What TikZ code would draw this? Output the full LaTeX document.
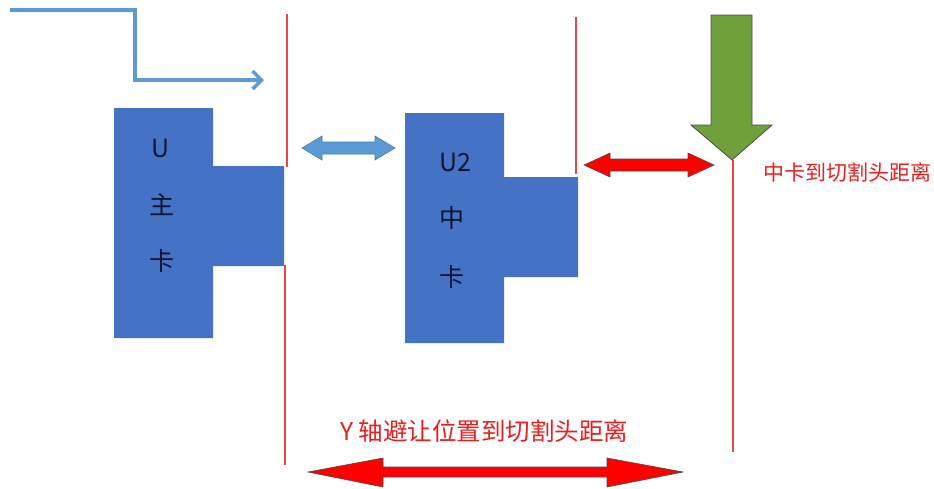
\documentclass[tikz,border=0pt]{standalone}
\usepackage{fontspec}
\setmainfont{Noto Sans CJK SC}
\usetikzlibrary{arrows.meta}
\definecolor{cardblue}{RGB}{68,114,196}
\definecolor{lightblue}{RGB}{91,155,213}
\definecolor{guide}{RGB}{235,70,70}
\definecolor{arrowgreen}{RGB}{112,160,60}
\definecolor{txtred}{RGB}{235,30,30}
\definecolor{darktxt}{RGB}{15,20,50}
\tikzset{
  card/.style={fill=cardblue,draw=none},
  guideline/.style={draw=guide,line width=1.3pt},
  cardtext/.style={text=darktxt,font=\fontsize{25}{27}\selectfont,inner sep=0pt},
  redlabel/.style={text=txtred,inner sep=0pt},
  redarrow/.style={fill=red,draw=black!70,line width=0.6pt,line join=miter},
  bluearrow/.style={fill=lightblue,draw=lightblue!80!black,line width=0.6pt},
  greenarrow/.style={fill=arrowgreen,draw=black!70,line width=0.8pt}
}
\begin{document}
\begin{tikzpicture}[x=1pt,y=-1pt]
\useasboundingbox (0,0) rectangle (934,488);
% top-left blue flow arrow
\coordinate (fs) at (10,10);
\coordinate (fe) at (264,80);
\draw[draw=lightblue,line width=3.5pt,-{Straight Barb[length=9pt,width=18pt]}] (fs) -| (135,80) -- (fe);
% guide lines
\draw[guideline] (287,14) -- (287,167);
\draw[guideline] (285,265) -- (285,465);
\draw[guideline] (576,17) -- (576,174);
\draw[guideline] (733,160) -- (733,452);
% U main card
\path[card] (114,108) -- (213,108) -- (213,166) -- (284,166) -- (284,266) -- (213,266) -- (213,338) -- (114,338) -- cycle;
\node[cardtext] (u1a) at (161,148) {U};
\node[cardtext] (u1b) at (162,205) {主};
\node[cardtext] (u1c) at (162,261) {卡};
% U2 middle card
\path[card] (405,113) -- (504,113) -- (504,177) -- (578,177) -- (578,277) -- (504,277) -- (504,343) -- (405,343) -- cycle;
\node[cardtext] (u2a) at (455,162) {U2};
\node[cardtext] (u2b) at (452,218) {中};
\node[cardtext] (u2c) at (452,277) {卡};
% blue double arrow
\path[bluearrow] (302,148) -- (322,136) -- (322,142) -- (375,142) -- (375,136) -- (395,148) -- (375,160) -- (375,154) -- (322,154) -- (322,160) -- cycle;
% upper red double arrow
\path[redarrow] (584,165) -- (610,153) -- (610,159) -- (688,159) -- (688,153) -- (714,165) -- (688,177) -- (688,171) -- (610,171) -- (610,177) -- cycle;
% green down arrow
\path[greenarrow] (711,15) -- (752,15) -- (752,125) -- (772,125) -- (732,160) -- (691,125) -- (711,125) -- cycle;
% labels
\node[redlabel,anchor=west,font=\fontsize{21}{23}\selectfont] (lab1) at (763,172) {中卡到切割头距离};
\node[redlabel,font=\fontsize{24.5}{26}\selectfont] (lab2) at (484,431) {Y 轴避让位置到切割头距离};
% bottom red double arrow
\path[redarrow] (308,472) -- (383,458) -- (383,467) -- (607,467) -- (607,458) -- (683,472) -- (607,487) -- (607,477) -- (383,477) -- (383,487) -- cycle;
\end{tikzpicture}
\end{document}
